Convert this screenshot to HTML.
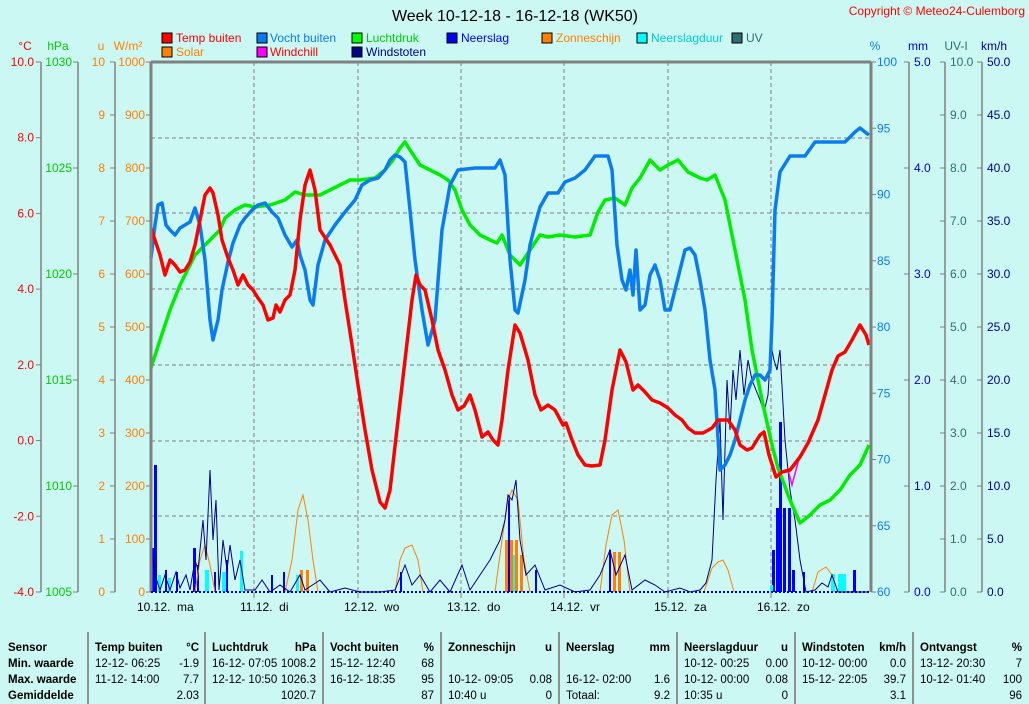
<!DOCTYPE html>
<html><head><meta charset="utf-8"><style>
body{margin:0;background:#ccf8f4;}
svg{display:block;font-family:"Liberation Sans",sans-serif;font-size:12px}
.b{font-weight:bold}
.tb text{font-size:11.5px}
text{white-space:pre}
</style></head><body>
<svg width="1029" height="704" viewBox="0 0 1029 704" xmlns="http://www.w3.org/2000/svg">
<rect width="1029" height="704" fill="#ccf8f4"/>
<text x="515" y="21" text-anchor="middle" font-size="16" fill="#000">Week 10-12-18 - 16-12-18 (WK50)</text>
<text x="1025" y="15" text-anchor="end" fill="#f00">Copyright © Meteo24-Culemborg</text>
<g stroke="#000" stroke-width="1">
<rect x="162" y="33" width="10" height="10" fill="#f00"/><rect x="257" y="33" width="10" height="10" fill="#0a7cf0"/><rect x="352" y="33" width="10" height="10" fill="#0f0"/><rect x="447" y="33" width="10" height="10" fill="#00f"/><rect x="542" y="33" width="10" height="10" fill="#ff7f00"/><rect x="637" y="33" width="10" height="10" fill="#0ff"/><rect x="732" y="33" width="10" height="10" fill="#2f6f6f"/>
<rect x="162" y="47" width="10" height="10" fill="#ff7f00"/><rect x="257" y="47" width="10" height="10" fill="#f0f"/><rect x="352" y="47" width="10" height="10" fill="#008"/>
</g>
<text x="176" y="42" fill="#f00">Temp buiten</text><text x="270" y="42" fill="#0a7cf0">Vocht buiten</text><text x="366" y="42" fill="#0c0">Luchtdruk</text><text x="461" y="42" fill="#00f">Neerslag</text><text x="556" y="42" fill="#ff7f00">Zonneschijn</text><text x="651" y="42" fill="#0cc">Neerslagduur</text><text x="746" y="42" fill="#2f6f6f">UV</text>
<text x="176" y="56" fill="#ff7f00">Solar</text><text x="270" y="56" fill="#f00">Windchill</text><text x="366" y="56" fill="#008">Windstoten</text>
<text x="25" y="50" text-anchor="middle" fill="#f00">°C</text><text x="58" y="50" text-anchor="middle" fill="#0c0">hPa</text><text x="101" y="50" text-anchor="middle" fill="#ff7f00">u</text><text x="128" y="50" text-anchor="middle" fill="#ff7f00">W/m²</text>
<text x="875" y="50" text-anchor="middle" fill="#0a7cf0">%</text><text x="918" y="50" text-anchor="middle" fill="#00c">mm</text><text x="956" y="50" text-anchor="middle" fill="#2f6f6f">UV-I</text><text x="994" y="50" text-anchor="middle" fill="#008">km/h</text>
<g stroke="#808080" stroke-width="1.5" fill="none">
<line x1="41" y1="62" x2="41" y2="592"/><line x1="78" y1="62" x2="78" y2="592"/><line x1="115" y1="62" x2="115" y2="592"/>
<line x1="909" y1="62" x2="909" y2="592"/><line x1="945" y1="62" x2="945" y2="592"/><line x1="982" y1="62" x2="982" y2="592"/>
</g>
<g id="ticks" stroke="#808080" stroke-width="1"></g>
<g stroke="#808080" stroke-dasharray="4,3" stroke-width="1">
<line x1="254" y1="62" x2="254" y2="592"/><line x1="358" y1="62" x2="358" y2="592"/><line x1="461" y1="62" x2="461" y2="592"/><line x1="564" y1="62" x2="564" y2="592"/><line x1="668" y1="62" x2="668" y2="592"/><line x1="771" y1="62" x2="771" y2="592"/>
<line x1="151" y1="138" x2="871" y2="138"/><line x1="151" y1="213" x2="871" y2="213"/><line x1="151" y1="289" x2="871" y2="289"/><line x1="151" y1="365" x2="871" y2="365"/><line x1="151" y1="441" x2="871" y2="441"/><line x1="151" y1="516" x2="871" y2="516"/>
</g>
<g fill="#00f">
<rect x="154" y="465" width="3" height="127"/><rect x="152" y="548" width="2" height="44"/><rect x="165" y="570" width="2" height="22"/><rect x="176" y="572" width="2" height="20"/><rect x="193" y="548" width="3" height="44"/><rect x="197" y="565" width="2" height="27"/><rect x="214" y="572" width="2" height="20"/><rect x="226" y="560" width="2" height="32"/><rect x="271" y="575" width="2" height="17"/><rect x="283" y="572" width="2" height="20"/><rect x="400" y="572" width="2" height="20"/><rect x="508" y="495" width="2" height="97"/><rect x="535" y="570" width="2" height="22"/><rect x="609" y="550" width="2" height="42"/><rect x="772" y="550" width="3" height="42"/><rect x="776" y="508" width="3" height="84"/><rect x="779" y="422" width="3" height="170"/><rect x="783" y="508" width="3" height="84"/><rect x="788" y="508" width="3" height="84"/><rect x="792" y="570" width="3" height="22"/><rect x="853" y="570" width="3" height="22"/><rect x="803" y="572" width="2" height="20"/>
</g>
<g fill="#0ff">
<rect x="158" y="575" width="3" height="17"/><rect x="168" y="578" width="3" height="14"/><rect x="205" y="570" width="4" height="22"/><rect x="222" y="572" width="4" height="20"/><rect x="240" y="551" width="3" height="41"/><rect x="296" y="575" width="3" height="17"/><rect x="770" y="585" width="3" height="7"/><rect x="831" y="574" width="4" height="18"/><rect x="838" y="574" width="8" height="18"/><rect x="512" y="555" width="3" height="37"/>
</g>
<g fill="#ff7f00">
<rect x="300" y="570" width="3" height="22"/><rect x="306" y="570" width="3" height="22"/><rect x="505" y="540" width="3" height="52"/><rect x="510" y="540" width="3" height="52"/><rect x="515" y="540" width="3" height="52"/><rect x="520" y="555" width="3" height="37"/><rect x="613" y="552" width="3" height="40"/><rect x="618" y="552" width="3" height="40"/>
</g>
<g fill="none" stroke="#ff7f00" stroke-width="1">
<path d="M285,592 L292,560 L298,510 L303,495 L308,520 L313,560 L318,592"/>
<path d="M395,592 L400,560 L405,548 L412,545 L418,560 L423,592"/>
<path d="M495,592 L502,540 L508,500 L512,490 L518,500 L524,560 L530,592"/>
<path d="M600,592 L606,545 L612,515 L618,510 L624,540 L630,592"/>
<path d="M704,592 L712,568 L718,562 L723,560 L728,570 L734,592"/>
<path d="M812,592 L818,572 L826,567 L832,575 L838,592"/>
<path d="M195,592 L200,560 L205,545 L210,565 L215,592"/>
</g>
<polyline fill="none" stroke="#008" stroke-width="1" points="151,540 155,575 160,590 165,575 170,590 176,572 180,588 186,575 190,590 195,560 198,570 203,520 206,560 210,470 213,540 216,500 219,590 223,540 227,570 230,545 235,580 240,560 245,590 255,590 262,580 270,592 280,585 290,592 300,575 305,590 320,580 330,592 345,588 360,592 380,592 395,590 405,565 412,585 420,575 430,592 440,580 450,592 462,565 470,590 480,575 490,560 500,540 505,520 508,495 512,500 516,480 520,540 526,575 535,565 545,590 560,585 575,592 590,590 600,575 606,560 610,550 616,575 625,555 632,590 645,580 655,585 665,592 680,588 690,592 700,590 706,583 712,560 716,480 720,420 723,520 727,380 730,430 733,370 736,400 740,350 744,395 748,360 752,380 756,390 760,400 764,412 768,395 771,345 774,360 777,370 780,350 785,440 790,490 795,520 800,560 806,592 815,590 822,583 828,587 832,575 838,592 869,592"/>
<polyline fill="none" stroke="#f0f" stroke-width="1.5" points="788,470 792,485 796,470 800,455"/>
<polyline fill="none" stroke="#0e0" stroke-width="3.5" stroke-linejoin="round" points="151,368 160,340 170,310 180,285 190,265 195,255 200,250 210,240 220,230 225,218 235,210 245,205 255,207 270,205 285,200 295,192 305,195 320,195 330,190 340,185 350,180 360,180 375,178 385,170 393,160 400,148 405,142 410,150 420,165 430,170 440,175 448,180 455,190 462,210 470,225 480,235 490,240 497,243 502,235 510,255 520,265 530,250 540,235 548,237 560,235 575,237 590,235 598,212 605,200 615,198 625,205 632,188 640,178 650,160 660,170 668,165 678,160 688,172 700,178 707,180 715,175 725,200 735,250 745,300 752,350 762,400 772,445 778,468 790,500 800,523 810,515 820,505 830,500 840,490 850,475 860,465 869,445"/>
<polyline fill="none" stroke="#0a7cf0" stroke-width="3.5" stroke-linejoin="round" points="151,258 155,225 158,205 162,203 166,225 170,230 175,235 180,228 190,222 195,208 200,225 205,260 210,320 213,340 218,320 222,290 228,262 233,243 240,225 245,218 252,210 258,205 265,203 272,212 278,218 285,235 292,247 297,240 300,255 305,270 310,300 313,305 318,265 325,240 335,225 345,212 355,200 362,185 370,180 378,178 385,170 390,160 395,155 400,157 405,162 410,210 415,260 422,310 428,345 435,320 442,230 450,185 458,170 475,168 495,168 500,160 505,175 510,260 515,310 518,313 525,280 530,245 535,225 540,207 548,193 558,193 565,182 575,178 585,170 595,156 608,156 612,170 617,245 622,280 626,290 630,270 633,295 636,250 640,310 645,305 650,275 655,265 660,280 665,310 670,310 680,270 685,250 690,248 695,255 700,280 705,310 710,360 715,390 720,470 725,465 730,455 735,440 740,420 745,400 750,385 755,375 760,375 765,380 770,370 772,320 775,210 780,172 790,156 805,156 815,142 845,142 855,132 860,128 865,132 869,135"/>
<polyline fill="none" stroke="#f00" stroke-width="3.5" stroke-linejoin="round" points="151,228 155,240 160,255 165,275 170,260 175,265 180,272 185,270 190,262 195,245 200,220 205,195 210,188 213,193 218,215 222,240 228,258 233,270 238,285 243,275 248,285 253,290 258,298 263,305 268,320 273,318 276,305 280,312 285,300 290,295 295,270 300,220 305,185 310,170 315,190 320,230 330,245 340,265 345,300 352,345 358,385 365,430 372,470 380,502 385,508 390,490 398,420 405,360 412,300 416,275 420,285 425,290 432,320 438,350 445,370 452,395 458,410 464,406 470,395 475,410 482,437 488,432 493,440 498,445 502,420 508,370 515,325 520,333 528,360 535,395 541,410 548,405 555,410 563,425 566,423 572,440 578,455 585,465 592,466 600,465 605,440 612,390 620,350 626,362 633,390 638,385 645,392 652,400 660,403 668,408 675,415 682,420 688,428 695,433 703,433 712,428 718,420 728,420 735,430 740,445 747,450 752,448 760,435 764,432 769,455 776,477 782,472 790,470 800,457 808,443 818,420 825,395 832,370 838,356 845,352 852,340 860,325 866,335 869,345"/>
<g stroke="#808080" stroke-width="3" fill="none">
<line x1="151" y1="62" x2="871" y2="62"/><line x1="151" y1="62" x2="151" y2="592"/><line x1="871" y1="62" x2="871" y2="592"/>
</g>
<line x1="151" y1="592" x2="871" y2="592" stroke="#0000c0" stroke-width="2" stroke-dasharray="2,2"/>
<g id="lbl"></g>
<g fill="#000">
<text x="137" y="611">10.12.  ma</text><text x="240" y="611">11.12.  di</text><text x="344" y="611">12.12.  wo</text><text x="447" y="611">13.12.  do</text><text x="550" y="611">14.12.  vr</text><text x="654" y="611">15.12.  za</text><text x="757" y="611">16.12.  zo</text>
</g>
<g stroke="#808080"><line x1="254" y1="592" x2="254" y2="598"/><line x1="358" y1="592" x2="358" y2="598"/><line x1="461" y1="592" x2="461" y2="598"/><line x1="564" y1="592" x2="564" y2="598"/><line x1="668" y1="592" x2="668" y2="598"/><line x1="771" y1="592" x2="771" y2="598"/></g>
<g stroke="#909090" stroke-width="2"><line x1="88" y1="632" x2="88" y2="704"/><line x1="205" y1="632" x2="205" y2="704"/><line x1="323" y1="632" x2="323" y2="704"/><line x1="441" y1="632" x2="441" y2="704"/><line x1="559" y1="632" x2="559" y2="704"/><line x1="677" y1="632" x2="677" y2="704"/><line x1="795" y1="632" x2="795" y2="704"/><line x1="913" y1="632" x2="913" y2="704"/></g>
<g fill="#000" class="tb">
<text x="8" y="651" class="b">Sensor</text><text x="8" y="667" class="b">Min. waarde</text><text x="8" y="683" class="b">Max. waarde</text><text x="8" y="699" class="b">Gemiddelde</text>
<text x="95" y="651" class="b">Temp buiten</text><text x="199" y="651" class="b" text-anchor="end">°C</text>
<text x="95" y="667">12-12- 06:25</text><text x="199" y="667" text-anchor="end">-1.9</text>
<text x="95" y="683">11-12- 14:00</text><text x="199" y="683" text-anchor="end">7.7</text><text x="199" y="699" text-anchor="end">2.03</text>
<text x="212" y="651" class="b">Luchtdruk</text><text x="316" y="651" class="b" text-anchor="end">hPa</text>
<text x="212" y="667">16-12- 07:05</text><text x="316" y="667" text-anchor="end">1008.2</text>
<text x="212" y="683">12-12- 10:50</text><text x="316" y="683" text-anchor="end">1026.3</text><text x="316" y="699" text-anchor="end">1020.7</text>
<text x="330" y="651" class="b">Vocht buiten</text><text x="434" y="651" class="b" text-anchor="end">%</text>
<text x="330" y="667">15-12- 12:40</text><text x="434" y="667" text-anchor="end">68</text>
<text x="330" y="683">16-12- 18:35</text><text x="434" y="683" text-anchor="end">95</text><text x="434" y="699" text-anchor="end">87</text>
<text x="448" y="651" class="b">Zonneschijn</text><text x="552" y="651" class="b" text-anchor="end">u</text>
<text x="448" y="683">10-12- 09:05</text><text x="552" y="683" text-anchor="end">0.08</text><text x="448" y="699">10:40 u</text><text x="552" y="699" text-anchor="end">0</text>
<text x="566" y="651" class="b">Neerslag</text><text x="670" y="651" class="b" text-anchor="end">mm</text>
<text x="566" y="683">16-12- 02:00</text><text x="670" y="683" text-anchor="end">1.6</text><text x="566" y="699">Totaal:</text><text x="670" y="699" text-anchor="end">9.2</text>
<text x="684" y="651" class="b">Neerslagduur</text><text x="788" y="651" class="b" text-anchor="end">u</text>
<text x="684" y="667">10-12- 00:25</text><text x="788" y="667" text-anchor="end">0.00</text>
<text x="684" y="683">10-12- 00:00</text><text x="788" y="683" text-anchor="end">0.08</text><text x="684" y="699">10:35 u</text><text x="788" y="699" text-anchor="end">0</text>
<text x="802" y="651" class="b">Windstoten</text><text x="906" y="651" class="b" text-anchor="end">km/h</text>
<text x="802" y="667">10-12- 00:00</text><text x="906" y="667" text-anchor="end">0.0</text>
<text x="802" y="683">15-12- 22:05</text><text x="906" y="683" text-anchor="end">39.7</text><text x="906" y="699" text-anchor="end">3.1</text>
<text x="920" y="651" class="b">Ontvangst</text><text x="1022" y="651" class="b" text-anchor="end">%</text>
<text x="920" y="667">13-12- 20:30</text><text x="1022" y="667" text-anchor="end">7</text>
<text x="920" y="683">10-12- 01:40</text><text x="1022" y="683" text-anchor="end">100</text><text x="1022" y="699" text-anchor="end">96</text>
</g>
</svg>
<script>
(function(){
var NS="http://www.w3.org/2000/svg",T=document.getElementById("ticks"),L=document.getElementById("lbl");
function ax(ax0,tx1,tx2,lx,anchor,vals,color){
 var n=vals.length-1;
 for(var i=0;i<=n;i++){
  var y=62+530*i/n;
  var l=document.createElementNS(NS,"line");
  l.setAttribute("x1",tx1);l.setAttribute("x2",tx2);l.setAttribute("y1",y);l.setAttribute("y2",y);T.appendChild(l);
  var t=document.createElementNS(NS,"text");
  t.setAttribute("y",y+4);t.setAttribute("fill",color);t.setAttribute("x",lx);t.setAttribute("text-anchor",anchor);
  t.textContent=vals[i];L.appendChild(t);
 }
}
function r(a,b,s,d){var o=[];for(var v=a;v>=b-1e-9;v-=s)o.push(v.toFixed(d));return o;}
ax(0,36,41,34,"end",r(10,-4,2,1),"#f00");
ax(0,73,78,72,"end",r(1030,1005,5,0),"#0c0");
ax(0,110,115,105,"end",r(10,0,1,0),"#ff7f00");
ax(0,146,151,145,"end",r(1000,0,100,0),"#ff7f00");
ax(0,871,876,877,"start",r(100,60,5,0),"#0a7cf0");
ax(0,904,909,914,"start",r(5,0,1,1),"#00c");
ax(0,940,945,950,"start",r(10,0,1,1),"#2f6f6f");
ax(0,977,982,987,"start",r(50,0,5,1),"#008");
})();
</script>
</body></html>
